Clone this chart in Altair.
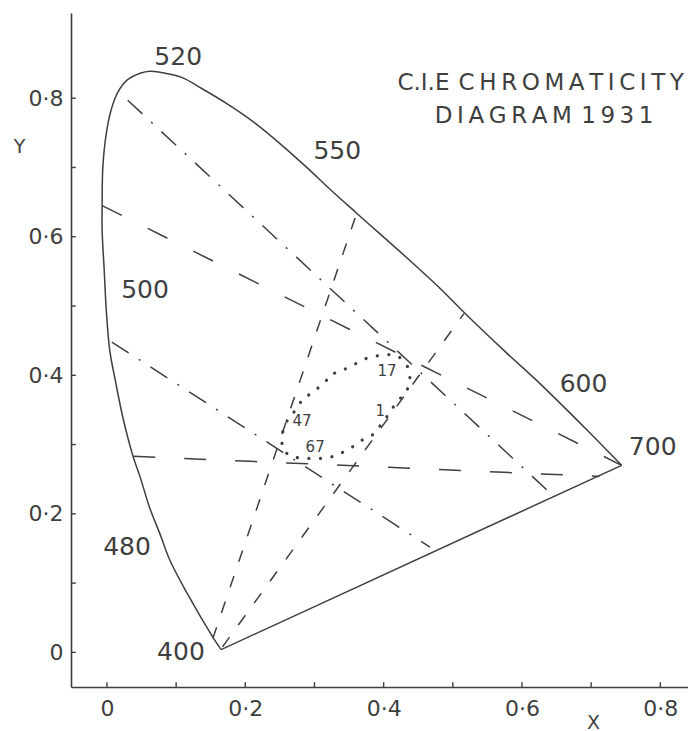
import altair as alt
import pandas as pd

# ---- data -------------------------------------------------------------
# Spectral locus, traced from the violet end (400 nm) round to 700 nm
locus_x = [0.165, 0.153, 0.116, 0.091, 0.077, 0.062, 0.048, 0.038, 0.023, 0.012,
           0.004, -0.001, -0.004, -0.007, -0.007, -0.006, -0.001, 0.006, 0.016, 0.029,
           0.048, 0.062, 0.079, 0.108, 0.137, 0.175, 0.214, 0.253, 0.290, 0.322,
           0.361, 0.442, 0.481, 0.516, 0.578, 0.626, 0.694, 0.744]
locus_y = [0.004, 0.022, 0.085, 0.133, 0.170, 0.208, 0.253, 0.282, 0.339, 0.393,
           0.436, 0.494, 0.552, 0.609, 0.643, 0.700, 0.749, 0.783, 0.809, 0.826,
           0.836, 0.839, 0.837, 0.830, 0.814, 0.791, 0.764, 0.732, 0.699, 0.669,
           0.634, 0.562, 0.526, 0.491, 0.432, 0.388, 0.321, 0.270]

# Straight line closing the locus (400 nm to 700 nm)
purple_x = [0.165, 0.744]
purple_y = [0.004, 0.270]

# Wavelength labels along the locus
wl_text = ["520", "550", "500", "480", "400", "600", "700"]
wl_x = [0.103, 0.333, 0.055, 0.029, 0.107, 0.689, 0.789]
wl_y = [0.860, 0.724, 0.523, 0.152, 0.000, 0.387, 0.297]

# Construction lines: style, start and end points
seg_style = ["short", "short", "long", "long", "dashdot", "dashdot"]
seg_x1 = [0.153, 0.167, -0.007, 0.038, 0.030, 0.007]
seg_y1 = [0.020, 0.008, 0.645, 0.283, 0.797, 0.448]
seg_x2 = [0.361, 0.516, 0.744, 0.712, 0.644, 0.467]
seg_y2 = [0.634, 0.489, 0.270, 0.254, 0.227, 0.152]

# Dotted loop in the middle of the diagram
loop_x = [0.329, 0.344, 0.358, 0.376, 0.395, 0.412, 0.423, 0.435, 0.438, 0.434,
          0.416, 0.399, 0.383, 0.368, 0.354, 0.332, 0.315, 0.301, 0.283, 0.269,
          0.257, 0.253, 0.254, 0.262, 0.275, 0.283, 0.298, 0.312, 0.329]
loop_y = [0.403, 0.409, 0.416, 0.425, 0.429, 0.430, 0.426, 0.412, 0.397, 0.378,
          0.357, 0.332, 0.313, 0.306, 0.296, 0.284, 0.280, 0.280, 0.280, 0.282,
          0.289, 0.302, 0.318, 0.338, 0.352, 0.367, 0.375, 0.388, 0.403]

loop_text = ["17", "1", "47", "67"]
loop_tx = [0.405, 0.395, 0.282, 0.301]
loop_ty = [0.406, 0.349, 0.334, 0.296]

# Tick positions and labelled values
tick_values = [0.0, 0.1, 0.2, 0.3, 0.4, 0.5, 0.6, 0.7, 0.8]
label_values = [0.0, 0.2, 0.4, 0.6, 0.8]

title_lines = ["C.I.E" + "\u2009" * 2 + "\u2009".join("CHROMATICITY"),
               "\u2009".join("DIAGRAM") + "\u2009" * 2 + "\u2009".join("1931")]
title_x = [0.627, 0.632]
title_y = [0.8116, 0.7639]

# ---- look -------------------------------------------------------------
X_MIN, X_MAX = -0.052, 0.84
Y_MIN, Y_MAX = -0.05, 0.923
TICK = 0.007
INK = "#3f3f3f"
FONT = "DejaVu Sans"

x_scale = alt.Scale(domain=[X_MIN, X_MAX], nice=False, zero=False)
y_scale = alt.Scale(domain=[Y_MIN, Y_MAX], nice=False, zero=False)
label_expr = "datum.value == 0 ? '0' : replace(format(datum.value, '.1f'), '.', '·')"

x_axis = alt.Axis(values=label_values, labelExpr=label_expr, ticks=False, tickSize=0,
                  grid=False, domainColor=INK, domainWidth=1.6, labelFont=FONT,
                  labelFontSize=22, labelColor=INK, labelPadding=11,
                  title="X", titleX=522, titleY=35, titleAngle=0, titleAlign="center",
                  titleBaseline="middle", titleFont=FONT, titleFontSize=19,
                  titleFontWeight="normal", titleColor=INK)
y_axis = alt.Axis(values=label_values, labelExpr=label_expr, ticks=False, tickSize=0,
                  grid=False, domainColor=INK, domainWidth=1.6, labelFont=FONT,
                  labelFontSize=22, labelColor=INK, labelPadding=8,
                  title="Y", titleX=-52, titleY=133, titleAngle=0, titleAlign="center",
                  titleBaseline="middle", titleFont=FONT, titleFontSize=19,
                  titleFontWeight="normal", titleColor=INK)

X = alt.X("x:Q", scale=x_scale, axis=x_axis)
Y = alt.Y("y:Q", scale=y_scale, axis=y_axis)

# ---- tables -----------------------------------------------------------
locus = pd.DataFrame({"x": locus_x, "y": locus_y, "i": range(len(locus_x))})
purple = pd.DataFrame({"x": purple_x, "y": purple_y, "i": range(len(purple_x))})
segs = pd.DataFrame({"style": seg_style, "x": seg_x1, "y": seg_y1, "x2": seg_x2, "y2": seg_y2})
loop = pd.DataFrame({"x": loop_x, "y": loop_y, "i": range(len(loop_x))})
wl = pd.DataFrame({"t": wl_text, "x": wl_x, "y": wl_y})
loop_lab = pd.DataFrame({"t": loop_text, "x": loop_tx, "y": loop_ty})
titles = pd.DataFrame({"t": title_lines, "x": title_x, "y": title_y})
xticks = pd.DataFrame({"x": tick_values, "y": [Y_MIN] * len(tick_values),
                       "y2": [Y_MIN + TICK] * len(tick_values)})
yticks = pd.DataFrame({"y": tick_values, "x": [X_MIN] * len(tick_values),
                       "x2": [X_MIN + TICK] * len(tick_values)})

# ---- layers -----------------------------------------------------------
locus_line = alt.Chart(locus).mark_line(
    color=INK, strokeWidth=1.5, interpolate="catmull-rom"
).encode(x=X, y=Y, order="i:Q")

purple_line = alt.Chart(purple).mark_line(color=INK, strokeWidth=1.5).encode(
    x=X, y=Y, order="i:Q")

construction = alt.Chart(segs).mark_rule(color=INK, strokeWidth=1.5).encode(
    x=X, y=Y, x2="x2:Q", y2="y2:Q",
    strokeDash=alt.StrokeDash(
        "style:N", legend=None,
        scale=alt.Scale(domain=["short", "long", "dashdot"],
                        range=[[12, 15], [22, 29], [20, 12, 2, 12]])))

loop_line = alt.Chart(loop).mark_line(
    color=INK, strokeWidth=3.2, strokeCap="round", strokeDash=[0.1, 11.5]
).encode(x=X, y=Y, order="i:Q")

x_tick_marks = alt.Chart(xticks).mark_rule(color=INK, strokeWidth=1.4).encode(
    x=X, y=Y, y2="y2:Q")
y_tick_marks = alt.Chart(yticks).mark_rule(color=INK, strokeWidth=1.4).encode(
    x=X, x2="x2:Q", y=Y)

wl_labels = alt.Chart(wl).mark_text(
    font=FONT, fontSize=25, color=INK, align="center", baseline="middle"
).encode(x=X, y=Y, text="t:N")

loop_labels = alt.Chart(loop_lab).mark_text(
    font=FONT, fontSize=15, color=INK, align="center", baseline="middle"
).encode(x=X, y=Y, text="t:N")

title_text = alt.Chart(titles).mark_text(
    font=FONT, fontSize=23, color=INK, align="center", baseline="alphabetic"
).encode(x=X, y=Y, text="t:N")

chart = alt.layer(
    locus_line, purple_line, construction, loop_line,
    x_tick_marks, y_tick_marks, wl_labels, loop_labels, title_text
).properties(
    width=617, height=674,
    autosize=alt.AutoSizeParams(type="none"),
    padding={"left": 71, "top": 13, "right": 0, "bottom": 44},
    background="white",
).configure_view(stroke=None)

chart.save("out.html", embed_options={"renderer": "svg", "actions": False})
